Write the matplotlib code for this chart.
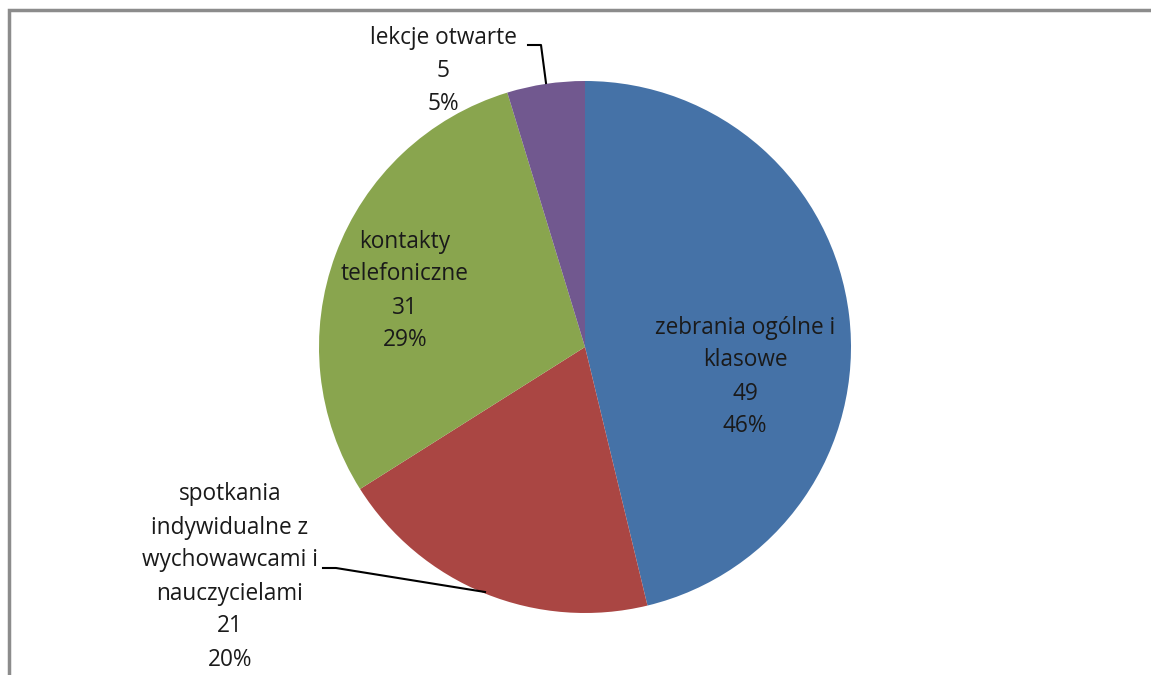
import matplotlib
matplotlib.use('Agg')
import matplotlib.pyplot as plt

# data
categories = ['zebrania ogólne i\nklasowe',
              'spotkania\nindywidualne z\nwychowawcami i\nnauczycielami',
              'kontakty\ntelefoniczne',
              'lekcje otwarte']
values = [49, 21, 31, 5]
colors = ['#4572A7', '#AA4643', '#89A54E', '#71588F']

# label anchor positions in pixels (x, y from top)
label_pos = [(745, 377), (230, 577), (405, 291), (443, 71)]
leaders = [None,
           [(323, 568), (336, 568), (485, 592)],
           None,
           [(528, 45), (541, 45), (546, 83)]]

W, H = 1151, 675
fig = plt.figure(figsize=(W / 100, H / 100), dpi=100)
ax = fig.add_axes([0, 0, 1, 1])
ax.set_xlim(0, W)
ax.set_ylim(0, H)
ax.set_aspect('equal')
ax.axis('off')

# chart border (only top and left visible in the crop)
ax.plot([9, 9, W], [0, H - 10, H - 10], color='#8c8c8c', lw=2.5,
        solid_joinstyle='miter')

ax.pie(values, colors=colors, startangle=90, counterclock=False,
       center=(585, H - 347), radius=266, frame=True)
ax.set_xlim(0, W)
ax.set_ylim(0, H)
ax.axis('off')

total = sum(values)
for name, v, (x, y), ld in zip(categories, values, label_pos, leaders):
    txt = '%s\n%d\n%d%%' % (name, v, round(100.0 * v / total))
    ax.text(x, H - y, txt, ha='center', va='center', fontsize=16.3,
            family='Open Sans', color='#1a1a1a', linespacing=1.5)
    if ld:
        ax.plot([p[0] for p in ld], [H - p[1] for p in ld],
                color='black', lw=1.5)

fig.savefig('out.png', dpi=100)
